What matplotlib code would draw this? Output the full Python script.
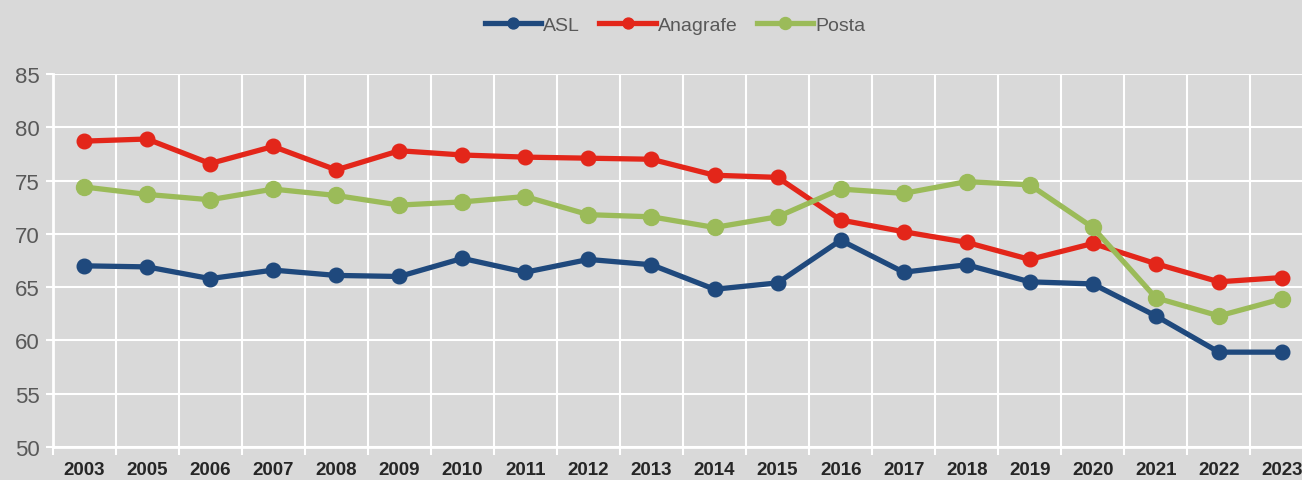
import numpy as np
import matplotlib.pyplot as plt

anni = ['2003', '2005', '2006', '2007', '2008', '2009', '2010', '2011', '2012', '2013',
        '2014', '2015', '2016', '2017', '2018', '2019', '2020', '2021', '2022', '2023']

asl = [67.0, 66.9, 65.8, 66.6, 66.1, 66.0, 67.7, 66.4, 67.6, 67.1,
       64.8, 65.4, 69.4, 66.4, 67.1, 65.5, 65.3, 62.3, 58.9, 58.9]
anagrafe = [78.7, 78.9, 76.6, 78.2, 76.0, 77.8, 77.4, 77.2, 77.1, 77.0,
            75.5, 75.3, 71.3, 70.2, 69.2, 67.6, 69.1, 67.2, 65.5, 65.9]
posta = [74.4, 73.7, 73.2, 74.2, 73.6, 72.7, 73.0, 73.5, 71.8, 71.6,
         70.6, 71.6, 74.2, 73.8, 74.9, 74.6, 70.6, 64.0, 62.3, 63.9]

plt.rcParams['font.family'] = ['Liberation Sans', 'DejaVu Sans']

fig = plt.figure(figsize=(13.02, 4.81), dpi=100, facecolor='#d9d9d9')
ax = fig.add_axes([52.5/1302, 1 - 448/481, (1313.5-52.5)/1302, (448-75)/481])
ax.set_facecolor('#d9d9d9')

x = np.arange(len(anni))
ax.plot(x, asl, color='#1f497d', lw=3.8, marker='o', ms=10.5, label='ASL', zorder=3)
ax.plot(x, anagrafe, color='#e3261a', lw=3.8, marker='o', ms=10.5, label='Anagrafe', zorder=3)
ax.plot(x, posta, color='#9bbb59', lw=3.8, marker='o', ms=11.5, label='Posta', zorder=3)

ax.set_xlim(-0.5, len(anni) - 0.5)
ax.set_ylim(50, 85)
ax.set_yticks(range(50, 90, 5))
ax.set_xticks(x)
ax.set_xticklabels(anni, fontweight='bold', fontsize=13.5, color='#262626')
ax.set_xticks(np.arange(-0.5, len(anni), 1), minor=True)
ax.tick_params(axis='x', which='major', length=0, pad=10)
ax.tick_params(axis='x', which='minor', length=6, width=1.5, color='white')
ax.tick_params(axis='y', length=5, width=1.5, color='white', labelsize=16, labelcolor='#595959', pad=4)

ax.grid(True, axis='y', color='white', lw=1.5)
ax.grid(True, axis='x', which='minor', color='white', lw=1.5)
ax.set_axisbelow(True)
for s in ['top', 'right']:
    ax.spines[s].set_visible(False)
for s in ['left', 'bottom']:
    ax.spines[s].set_color('white')
    ax.spines[s].set_linewidth(2)

fig.legend(loc='center', bbox_to_anchor=(675/1302, 1 - 26/481), ncol=3, frameon=False,
           fontsize=14, labelcolor='#595959', handlelength=2.9, handletextpad=0.1,
           columnspacing=1.0, markerscale=0.75)

fig.savefig('out.png', dpi=100, facecolor='#d9d9d9')
